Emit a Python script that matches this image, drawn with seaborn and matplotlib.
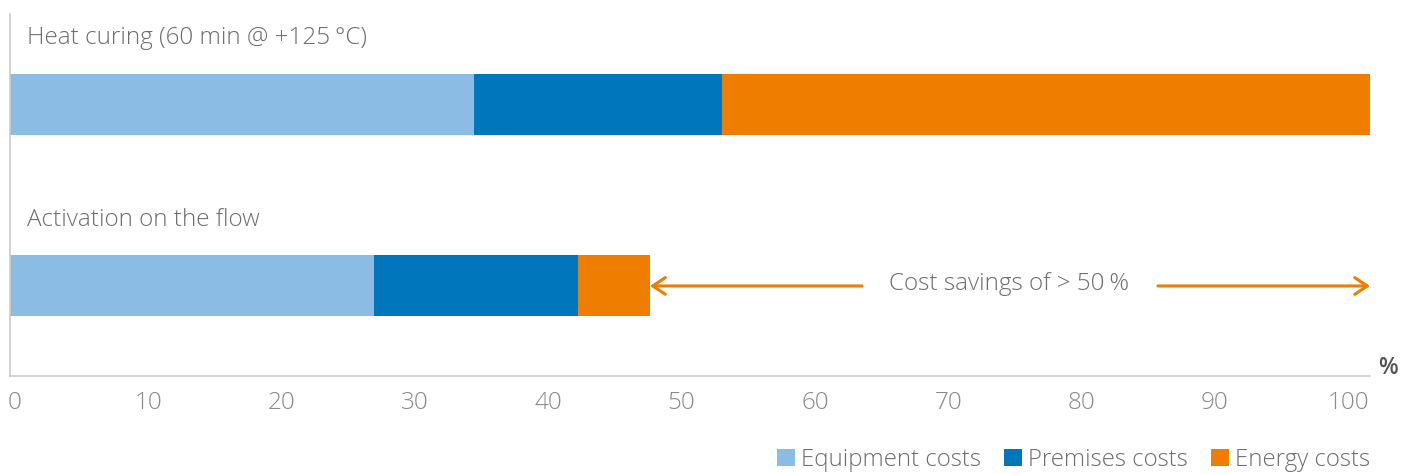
import matplotlib
matplotlib.use("Agg")
import matplotlib.pyplot as plt
import matplotlib.transforms as mtransforms
import seaborn as sns
import pandas as pd
import numpy as np
from matplotlib.patches import Patch

categories = ["Heat curing (60 min @ +125\u2009°C)", "Activation on the flow"]
series_names = ["Equipment costs", "Premises costs", "Energy costs"]
equipment = [34.8, 27.3]
premises = [18.6, 15.3]
energy = [48.6, 5.4]
x_ticks = [0, 10, 20, 30, 40, 50, 60, 70, 80, 90, 100]
savings_label = "Cost savings of > 50\u2009%"
unit_label = "%"

colors = ["#8bbce3", "#0077bd", "#ee7d00"]
text_gray = "#6e6e6e"

sns.set_theme(style="white")
plt.rcParams['font.family'] = ['Open Sans', 'DejaVu Sans']

fig = plt.figure(figsize=(14.22, 4.74), dpi=100)
ax = fig.add_axes([10/1422, 98/474, 1360/1422, 362/474])

df = pd.DataFrame({"cat": categories,
                   "Equipment costs": equipment,
                   "Premises costs": premises,
                   "Energy costs": energy})
cum = df[series_names].cumsum(axis=1)

for name, col in reversed(list(zip(series_names, colors))):
    sns.barplot(x=cum[name], y=df["cat"], orient="h", color=col,
                width=0.335, ax=ax, saturation=1, edgecolor="none")

ax.set_xlim(0, 102)
ax.set_ylim(1.495, -0.495)
ax.set_xticks(x_ticks)
ax.set_xticklabels([str(t) for t in x_ticks], fontsize=17.5, color="#8a8a8a",
                   fontweight="light")
ax.tick_params(axis="x", length=0, pad=11)
shift = mtransforms.ScaledTranslation(5/100, 0, fig.dpi_scale_trans)
for lab in ax.get_xticklabels():
    lab.set_transform(lab.get_transform() + shift)
ax.set_yticks([])
ax.set_xlabel("")
ax.set_ylabel("")
for s in ["top", "right"]:
    ax.spines[s].set_visible(False)
for s in ["left", "bottom"]:
    ax.spines[s].set_color("#cccccc")
    ax.spines[s].set_linewidth(1.2)

for i, c in enumerate(categories):
    ax.text(1.3, i - 0.365, c, fontsize=17.5, color=text_gray,
            fontweight="light", va="center", ha="left")

# savings arrow
tot_top = cum["Energy costs"].iloc[0]
tot_bot = cum["Energy costs"].iloc[1]
mid = 74.9
orange = colors[2]
ap = dict(arrowstyle="->,head_length=0.75,head_width=0.5", color=orange, lw=2.2,
          shrinkA=0, shrinkB=0)
ax.annotate("", xy=(tot_bot, 1), xytext=(63.9, 1), arrowprops=ap)
ax.annotate("", xy=(tot_top, 1), xytext=(86.1, 1), arrowprops=ap)
ax.text(mid, 1 - 0.01, savings_label, fontsize=17.5, color=text_gray,
        fontweight="light", ha="center", va="center")

ax.text(1.0 + 18/1360, 8/362, unit_label, transform=ax.transAxes, fontsize=16.5,
        color="#555555", fontweight="semibold", ha="center", va="center")

handles = [Patch(facecolor=c, edgecolor="none") for c in colors]
fig.legend(handles, series_names, loc="center right",
           bbox_to_anchor=(1370/1422, 1 - 460/474), ncol=3, frameon=False,
           borderaxespad=0, borderpad=0,
           handlelength=0.75, handleheight=0.75, handletextpad=0.25,
           columnspacing=0.95, labelcolor=text_gray,
           prop={"weight": "light", "size": 17.3})

fig.savefig("out.png", dpi=100)
